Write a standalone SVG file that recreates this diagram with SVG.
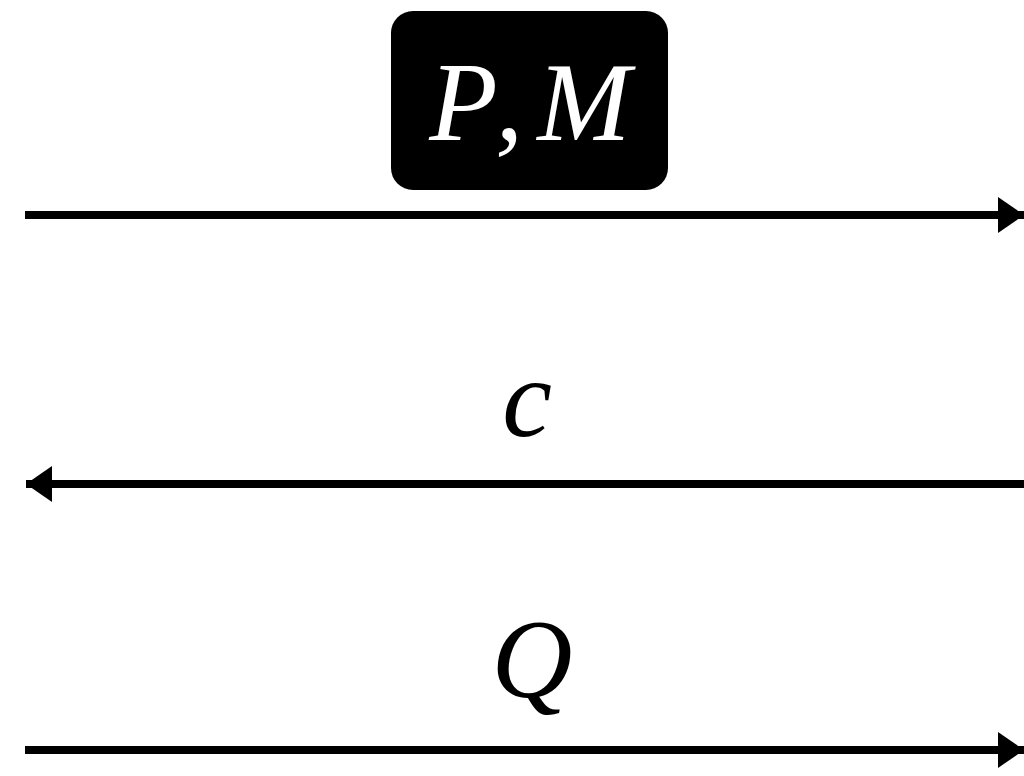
<svg xmlns="http://www.w3.org/2000/svg" width="1024" height="776" viewBox="0 0 1024 776">
<style>
.lbl{font-family:'Liberation Serif','Times New Roman',serif;font-style:italic;font-size:112px;text-anchor:middle}
.ln{stroke:#000;stroke-width:8;fill:none}
</style>
<defs>
<marker id="ah" markerUnits="userSpaceOnUse" markerWidth="28" markerHeight="38" refX="26" refY="18" orient="auto" viewBox="0 0 28 38">
<path d="M0,0 L26,18 L0,36 Z" fill="#000"/>
</marker>
</defs>
<rect width="1024" height="776" fill="#fff"/>
<g id="connectors">
<line class="ln" x1="25" y1="215" x2="1024" y2="215" marker-end="url(#ah)"/>
<line class="ln" x1="1024" y1="484" x2="26" y2="484" marker-end="url(#ah)"/>
<line class="ln" x1="25" y1="750" x2="1024" y2="750" marker-end="url(#ah)"/>
</g>
<g id="node-pm">
<rect x="391" y="11" width="277" height="179" rx="22" fill="#000"/>
<text class="lbl" x="530" y="140" fill="#fff">P<tspan dx="12">,</tspan><tspan dx="14">M</tspan></text>
</g>
<g id="label-c">
<text class="lbl" x="527" y="436">c</text>
</g>
<g id="label-q">
<text class="lbl" x="532" y="697">Q</text>
</g>
</svg>
